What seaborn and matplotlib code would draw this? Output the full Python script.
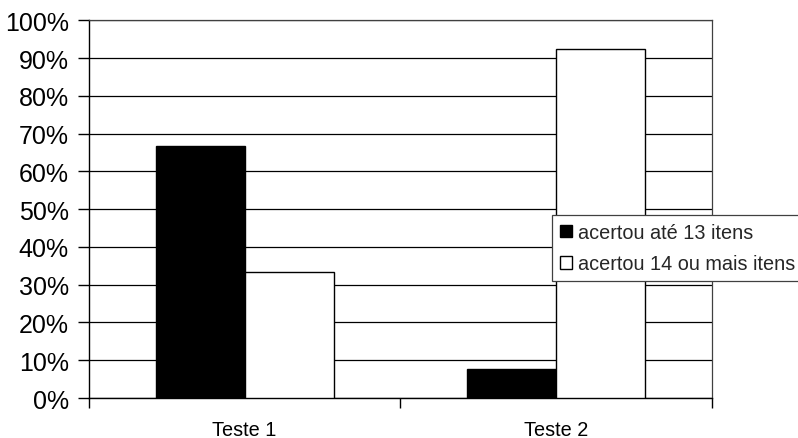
import matplotlib
matplotlib.use("Agg")
import matplotlib.pyplot as plt
import seaborn as sns
import pandas as pd
from matplotlib.ticker import FixedLocator, FuncFormatter

tests = ["Teste 1", "Teste 2"]
series_names = ["acertou até 13 itens", "acertou 14 ou mais itens"]
ate_13 = [66.7, 7.7]
mais_14 = [33.3, 92.3]
y_ticks = [0, 10, 20, 30, 40, 50, 60, 70, 80, 90, 100]

df = pd.DataFrame({
    "teste": tests * 2,
    "grupo": [series_names[0]] * len(tests) + [series_names[1]] * len(tests),
    "pct": ate_13 + mais_14,
})

sns.set_style("white")
plt.rcParams["font.family"] = ["Liberation Sans", "DejaVu Sans"]

fig = plt.figure(figsize=(7.98, 4.39), dpi=100)
ax = fig.add_axes([0.1115, 0.0911, 0.7803, 0.8604])

sns.barplot(data=df, x="teste", y="pct", hue="grupo", order=tests,
            hue_order=series_names, palette=["black", "white"],
            edgecolor="black", linewidth=1.0, width=0.572, ax=ax,
            zorder=3)

ax.set_xlim(-0.5, 1.5)
ax.set_ylim(0, 100)
ax.set_xlabel("")
ax.set_ylabel("")

ax.yaxis.set_major_locator(FixedLocator(y_ticks))
ax.yaxis.set_major_formatter(FuncFormatter(lambda v, p: f"{v:.0f}%"))
ax.tick_params(axis="y", which="major", direction="out", length=8, width=1,
               color="black", labelsize=18, pad=6.5, left=True,
               labelcolor="black")

ax.set_xticks([0, 1])
ax.set_xticklabels(tests)
ax.set_xticks([-0.5, 0.5, 1.5], minor=True)
ax.tick_params(axis="x", which="major", length=0, labelsize=14.3, pad=16,
               labelcolor="black")
ax.tick_params(axis="x", which="minor", direction="out", length=7, width=1,
               color="black", bottom=True)

ax.grid(axis="y", color="black", linewidth=0.9, zorder=0)
ax.set_axisbelow(True)
for side in ["left", "bottom"]:
    ax.spines[side].set_color("black")
    ax.spines[side].set_linewidth(1.0)
for side in ["top", "right"]:
    ax.spines[side].set_color("#404040")
    ax.spines[side].set_linewidth(0.9)

handles, labels = ax.get_legend_handles_labels()
if ax.legend_:
    ax.legend_.remove()
leg = fig.legend(handles, labels, loc="upper left",
                 bbox_to_anchor=(0.692, 0.508), frameon=True, fancybox=False,
                 framealpha=1.0, facecolor="white",
                 fontsize=14.3, handlelength=0.62, handleheight=0.62,
                 handletextpad=0.3, labelspacing=0.62, borderpad=0.4,
                 borderaxespad=0.0)
leg.get_frame().set_edgecolor("#404040")
leg.get_frame().set_linewidth(0.9)

fig.savefig("out.png", dpi=100)
